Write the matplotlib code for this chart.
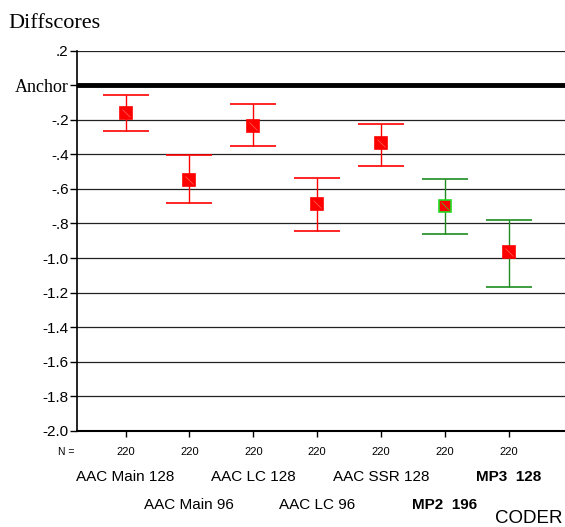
import matplotlib.pyplot as plt
from matplotlib.transforms import blended_transform_factory
import numpy as np

# Data
coders = ['AAC Main 128', 'AAC Main 96', 'AAC LC 128', 'AAC LC 96',
          'AAC SSR 128', 'MP2  196', 'MP3  128']
means = [-0.16, -0.55, -0.235, -0.685, -0.335, -0.70, -0.965]
upper = [-0.055, -0.405, -0.11, -0.54, -0.225, -0.545, -0.78]
lower = [-0.265, -0.68, -0.35, -0.845, -0.465, -0.86, -1.165]
counts = [220, 220, 220, 220, 220, 220, 220]
ytick_vals = [0.2, 0.0, -0.2, -0.4, -0.6, -0.8, -1.0, -1.2, -1.4, -1.6,
              -1.8, -2.0]
ytick_labels = ['.2', 'Anchor', '-.2', '-.4', '-.6', '-.8', '-1.0', '-1.2',
                '-1.4', '-1.6', '-1.8', '-2.0']

bar_colors = ['#ff0000'] * 5 + ['#1e8c1e'] * 2
edge_colors = ['#ff0000'] * 5 + ['#22dd22', '#ff0000']
slash_colors = ['#ff6060'] * 5 + ['#22dd22', '#ff6060']
bold = [False] * 5 + [True] * 2

sans = 'Liberation Sans'
serif = 'Liberation Serif'


def main():

    fig = plt.figure(figsize=(5.65, 5.27), dpi=100)
    ax = fig.add_axes([77 / 565, (527 - 431) / 527, 1 - 77 / 565,
                       (431 - 50.5) / 527])

    x = np.arange(1, len(coders) + 1)

    # Grid and anchor line
    for v in ytick_vals:
        ax.axhline(v, color='#222222', lw=0.9, zorder=1)
    ax.axhline(0, color='black', lw=3.5, zorder=2)

    # Error bars with square means
    for i in range(len(coders)):
        m = means[i]
        err = [[m - lower[i]], [upper[i] - m]]
        ax.errorbar(x[i], m, yerr=err, fmt='s', ecolor=bar_colors[i],
                    mfc='#ff0000', mec=edge_colors[i], ms=8, mew=1.2,
                    capsize=16.5, elinewidth=1, capthick=1, zorder=3)
        # thin diagonal stroke inside the square
        ax.plot(x[i], m, marker=(2, 0, 45), ms=8, mew=0.5,
                color=slash_colors[i], zorder=4)

    ax.set_xlim(0.24, 7.88)
    ax.set_ylim(-2.0, 0.2)

    # Axes styling
    ax.spines['right'].set_visible(False)
    ax.spines['top'].set_visible(False)
    ax.spines['left'].set_linewidth(1.2)
    ax.spines['bottom'].set_linewidth(1.5)

    ax.set_yticks(ytick_vals)
    ax.set_yticklabels(ytick_labels, fontfamily=sans, fontsize=11)
    for lab in ax.get_yticklabels():
        if lab.get_text() == 'Anchor':
            lab.set_fontfamily(serif)
            lab.set_fontsize(13)
    ax.tick_params(axis='y', direction='out', length=5, width=1, pad=1)

    ax.set_xticks(x)
    ax.set_xticklabels([])
    ax.tick_params(axis='x', direction='out', length=4, width=1)

    # Counts and coder names under the axis
    trans = blended_transform_factory(ax.transData, fig.transFigure)
    fig.text(66 / 565, 0.142, 'N =', fontfamily=sans, fontsize=7.5,
             ha='center', va='center')
    for i in range(len(coders)):
        ax.text(x[i], 0.142, str(counts[i]), transform=trans,
                fontfamily=sans, fontsize=8, ha='center', va='center')
        row_y = 0.095 if i % 2 == 0 else 0.042
        ax.text(x[i], row_y, coders[i], transform=trans, fontfamily=sans,
                fontsize=11, ha='center', va='center',
                fontweight='bold' if bold[i] else 'normal')

    fig.text(563 / 565, 0.017, 'CODER', fontfamily=sans, fontsize=13.5,
             ha='right', va='center')
    fig.text(8 / 565, 0.956, 'Diffscores', fontfamily=serif, fontsize=16,
             ha='left', va='center')

    fig.savefig('out.png', dpi=100)
    plt.close()


if __name__ == "__main__":
    main()
